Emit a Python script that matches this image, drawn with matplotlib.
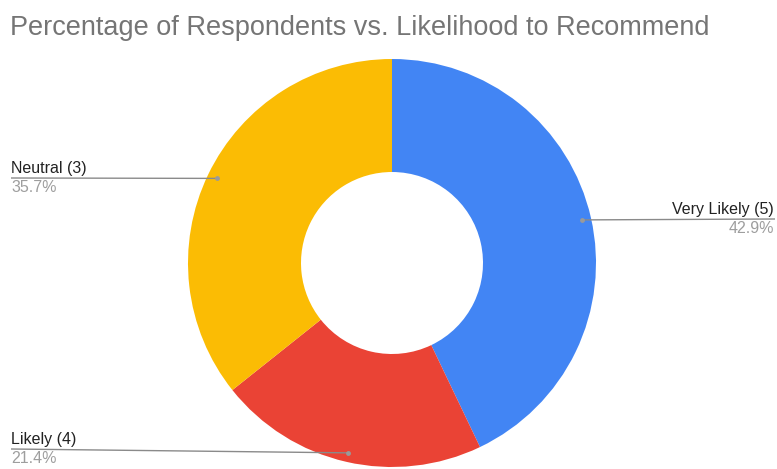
import numpy as np
import matplotlib.pyplot as plt

plt.rcParams['font.family'] = ['Liberation Sans', 'DejaVu Sans']

# Likelihood to recommend, share of respondents
categories = ["Very Likely (5)", "Likely (4)", "Neutral (3)"]
shares = [42.9, 21.4, 35.7]
colors = ["#4285F4", "#EA4335", "#FBBC04"]

W, H = 777, 469
fig = plt.figure(figsize=(W / 100, H / 100), dpi=100)
ax = fig.add_axes([0, 0, 1, 1])

cx, cy = 392, H - 263
R, r_in = 204, 91
ax.pie(shares, colors=colors, startangle=90, counterclock=False,
       center=(cx, cy), radius=R,
       wedgeprops=dict(width=R - r_in, linewidth=0))
ax.set_xlim(0, W)
ax.set_ylim(0, H)
ax.set_aspect('equal')
ax.axis('off')

ax.text(10, H - 35, "Percentage of Respondents vs. Likelihood to Recommend",
        fontsize=19.5, color="#757575", va='baseline', ha='left')

# label placement: (text x, name baseline y, line y at edge, alignment)
label_pos = {
    "Very Likely (5)": (774, 214, 219, 'right'),
    "Likely (4)": (11, 444, 449, 'left'),
    "Neutral (3)": (11, 173, 178, 'left'),
}

total = sum(shares)
start = 90.0
for name, val in zip(categories, shares):
    sweep = val / total * 360
    mid = np.deg2rad(start - sweep / 2)
    start -= sweep
    dx = cx + 0.955 * R * np.cos(mid)
    dy = cy + 0.955 * R * np.sin(mid)
    tx, ty, ly, ha = label_pos[name]
    edge = tx + 1 if ha == 'right' else tx
    ax.plot([edge, dx], [H - ly, dy], color="#8a8a8a", lw=1.0,
            solid_capstyle='butt')
    ax.plot(dx, dy, 'o', color="#9a9a9a", ms=3.5, mec='none')
    ax.text(tx, H - ty, name, fontsize=11.5, color="#222222",
            ha=ha, va='baseline')
    ax.text(tx, H - ty - 19, f"{val:.1f}%", fontsize=11.5, color="#9e9e9e",
            ha=ha, va='baseline')

fig.savefig("out.png", dpi=100, facecolor="white")
